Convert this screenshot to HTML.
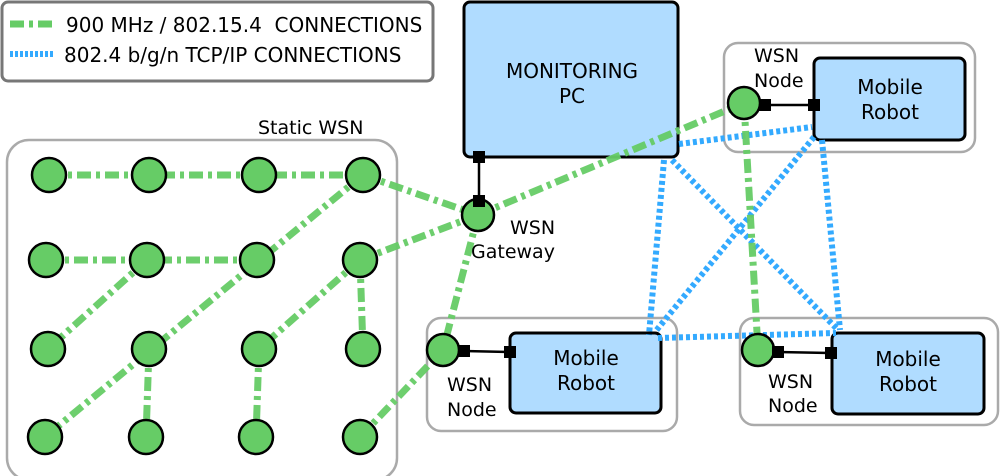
<!DOCTYPE html>
<html><head><meta charset="utf-8"><style>
html,body{margin:0;padding:0;background:#fff;width:1000px;height:476px;overflow:hidden}
text{font-family:"DejaVu Sans","Liberation Sans",sans-serif;fill:#000}
</style></head><body>
<svg width="1000" height="476" viewBox="0 0 1000 476" xmlns="http://www.w3.org/2000/svg">
<!-- legend -->
<rect x="2" y="2" width="431" height="79" rx="6" fill="#fff" stroke="#777" stroke-width="3"/>
<line x1="10" y1="24" x2="55" y2="24" stroke="#66cc66" stroke-width="7" stroke-dasharray="14,5,4,5"/>
<line x1="10" y1="54" x2="55" y2="54" stroke="#33aaff" stroke-width="6" stroke-dasharray="3,2"/>
<text x="66" y="32" font-size="20">900 MHz / 802.15.4&#160; CONNECTIONS</text>
<text x="64" y="62" font-size="20">802.4 b/g/n TCP/IP CONNECTIONS</text>
<!-- static WSN box -->
<rect x="7" y="140" width="390" height="340" rx="22" fill="#fff" stroke="#aaa" stroke-width="2.5"/>
<text x="258" y="134" font-size="19">Static WSN</text>
<!-- group boxes -->
<rect x="724" y="43" width="251" height="109" rx="14" fill="#fff" stroke="#aaa" stroke-width="2.5"/>
<rect x="427" y="318" width="250" height="113" rx="14" fill="#fff" stroke="#aaa" stroke-width="2.5"/>
<rect x="740" y="318" width="258" height="107" rx="14" fill="#fff" stroke="#aaa" stroke-width="2.5"/>
<!-- monitoring PC -->
<rect x="464" y="2" width="214" height="155" rx="6" fill="#b0dcff" stroke="#000" stroke-width="3"/>
<text x="572" y="78" font-size="20" text-anchor="middle">MONITORING</text>
<text x="572" y="103" font-size="20" text-anchor="middle">PC</text>
<!-- robots -->
<rect x="814" y="58" width="151" height="82" rx="6" fill="#b0dcff" stroke="#000" stroke-width="3"/>
<text x="890" y="94" font-size="20" text-anchor="middle">Mobile</text>
<text x="890" y="119" font-size="20" text-anchor="middle">Robot</text>
<rect x="510" y="333" width="151" height="80" rx="6" fill="#b0dcff" stroke="#000" stroke-width="3"/>
<text x="586" y="365" font-size="20" text-anchor="middle">Mobile</text>
<text x="586" y="390" font-size="20" text-anchor="middle">Robot</text>
<rect x="832" y="333" width="152" height="81" rx="6" fill="#b0dcff" stroke="#000" stroke-width="3"/>
<text x="908" y="366" font-size="20" text-anchor="middle">Mobile</text>
<text x="908" y="391" font-size="20" text-anchor="middle">Robot</text>
<!-- blue connections -->
<g stroke="#33aaff" stroke-width="6" stroke-dasharray="4,3" fill="none">
<line x1="679" y1="144" x2="812" y2="127"/>
<line x1="664" y1="160" x2="649" y2="335"/>
<line x1="672" y1="160" x2="838" y2="330"/>
<line x1="814" y1="137" x2="655" y2="332"/>
<line x1="822" y1="140" x2="840" y2="330"/>
<line x1="658" y1="338" x2="836" y2="333"/>
</g>
<!-- green connections -->
<g stroke="#66cc66" stroke-width="7" stroke-dasharray="14,5,4,5" fill="none" opacity="0.95">
<line x1="49" y1="175" x2="363" y2="175"/>
<line x1="46" y1="260" x2="257" y2="260"/>
<line x1="363" y1="175" x2="45" y2="437"/>
<line x1="147" y1="260" x2="48" y2="349"/>
<line x1="360" y1="260" x2="259" y2="349"/>
<line x1="360" y1="260" x2="363" y2="349"/>
<line x1="149" y1="349" x2="146" y2="437"/>
<line x1="259" y1="349" x2="256" y2="437"/>
<line x1="360" y1="437" x2="443" y2="350"/>
<line x1="363" y1="175" x2="478" y2="215"/>
<line x1="360" y1="260" x2="478" y2="215"/>
<line x1="478" y1="215" x2="443" y2="350"/>
<line x1="478" y1="215" x2="744" y2="103"/>
<line x1="744" y1="103" x2="758" y2="350"/>
</g>
<!-- black links -->
<g stroke="#000" stroke-width="2.5">
<line x1="479" y1="157" x2="479" y2="201"/>
<line x1="765" y1="105" x2="814" y2="105"/>
<line x1="464" y1="351" x2="510" y2="352"/>
<line x1="778" y1="352" x2="830" y2="353"/>
</g>
<!-- nodes -->
<g fill="#66cc66" stroke="#000" stroke-width="2.5">
<circle cx="49" cy="175" r="17"/><circle cx="149" cy="175" r="17"/><circle cx="259" cy="175" r="17"/><circle cx="363" cy="175" r="17"/>
<circle cx="46" cy="260" r="17"/><circle cx="147" cy="260" r="17"/><circle cx="257" cy="260" r="17"/><circle cx="360" cy="260" r="17"/>
<circle cx="48" cy="349" r="17"/><circle cx="149" cy="349" r="17"/><circle cx="259" cy="349" r="17"/><circle cx="363" cy="349" r="17"/>
<circle cx="45" cy="437" r="17"/><circle cx="146" cy="437" r="17"/><circle cx="256" cy="437" r="17"/><circle cx="360" cy="437" r="17"/>
<circle cx="478" cy="215" r="16"/>
<circle cx="744" cy="103" r="16"/>
<circle cx="443" cy="350" r="16"/>
<circle cx="758" cy="350" r="16"/>
</g>
<!-- squares -->
<g fill="#000">
<rect x="473" y="151" width="12" height="12"/>
<rect x="473" y="195" width="12" height="12"/>
<rect x="759" y="99" width="12" height="12"/>
<rect x="808" y="99" width="12" height="12"/>
<rect x="458" y="345" width="12" height="12"/>
<rect x="504" y="346" width="12" height="12"/>
<rect x="772" y="346" width="12" height="12"/>
<rect x="825" y="347" width="12" height="12"/>
</g>
<!-- labels -->
<text x="510" y="234" font-size="19">WSN</text>
<text x="471" y="258" font-size="19">Gateway</text>
<text x="754" y="62" font-size="19">WSN</text>
<text x="754" y="87" font-size="19">Node</text>
<text x="447" y="391" font-size="19">WSN</text>
<text x="447" y="416" font-size="19">Node</text>
<text x="768" y="388" font-size="19">WSN</text>
<text x="768" y="412" font-size="19">Node</text>
</svg>
</body></html>
